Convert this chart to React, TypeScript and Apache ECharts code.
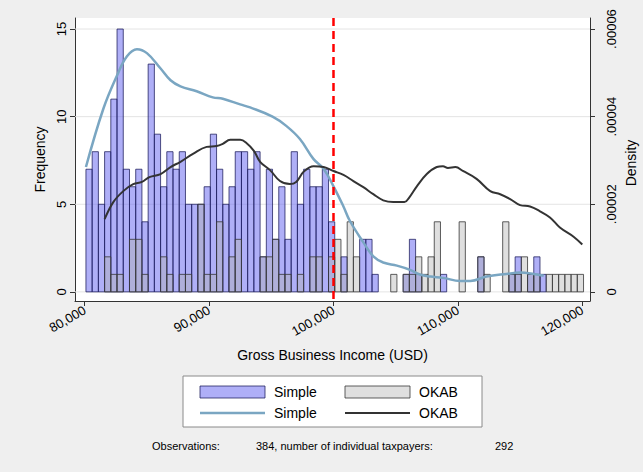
import React, { useEffect, useRef } from 'react';
import * as echarts from 'echarts';

// Histogram bins (Gross Business Income, USD)
const binStart = 80100;
const binWidth = 500;

// Frequency per bin, Simple regime
const simpleCounts = [
  7, 8, 5, 8, 11, 15, 7, 6, 7, 4,
  13, 9, 6, 8, 7, 8, 5, 5, 5, 6,
  9, 7, 5, 6, 8, 8, 7, 8, 2, 7,
  3, 6, 3, 8, 5, 7, 6, 6, 7, 4,
  0, 2, 0, 0, 3, 3, 1, 0, 0, 0,
  0, 1, 3, 1, 0, 0, 0, 1, 0, 0,
  0, 0, 0, 2, 0, 0, 0, 0, 1, 2,
  0, 1, 2, 1, 0, 0, 0, 0, 0, 0,
];

// Frequency per bin, OKAB regime
const okabCounts = [
  0, 0, 0, 2, 1, 1, 0, 3, 3, 1,
  0, 0, 2, 1, 0, 1, 1, 0, 5, 1,
  1, 4, 0, 2, 3, 0, 0, 0, 2, 2,
  3, 1, 1, 0, 1, 0, 2, 2, 0, 2,
  3, 1, 4, 2, 0, 0, 0, 0, 0, 1,
  0, 1, 1, 2, 1, 2, 4, 0, 0, 0,
  4, 0, 0, 2, 1, 0, 0, 4, 1, 1,
  2, 1, 1, 0, 1, 1, 1, 1, 1, 1,
];

// Kernel density, Simple
const simpleDensityIncome = [
  80100, 81500, 82600, 83400, 84200, 85000, 86100, 86900, 87700, 89000,
  90300, 91100, 92500, 93300, 95100, 96200, 97300, 98400, 99200, 100000,
  100800, 101300, 102400, 103200, 104000, 105100, 106100, 107000, 107800, 108800,
  110200, 111000, 112300, 113900, 115000, 116100, 116900,
];
const simpleDensity = [
  2.85e-5, 4.18e-5, 4.94e-5, 5.38e-5, 5.54e-5, 5.45e-5, 5.10e-5, 4.83e-5, 4.69e-5, 4.58e-5,
  4.44e-5, 4.41e-5, 4.28e-5, 4.21e-5, 4.00e-5, 3.79e-5, 3.49e-5, 3.03e-5, 2.81e-5, 2.41e-5,
  1.95e-5, 1.63e-5, 1.13e-5, 0.81e-5, 0.67e-5, 0.60e-5, 0.51e-5, 0.39e-5, 0.35e-5, 0.32e-5,
  0.25e-5, 0.25e-5, 0.35e-5, 0.41e-5, 0.44e-5, 0.41e-5, 0.37e-5,
];

// Kernel density, OKAB
const okabDensityIncome = [
  81600, 82300, 83100, 83900, 84600, 85200, 86100, 86900, 87700, 88700,
  89800, 90600, 91100, 91700, 92500, 93000, 93600, 94100, 94900, 95700,
  96500, 97000, 97600, 98400, 99200, 100000, 100800, 101600, 102400, 103200,
  104000, 104800, 105700, 106100, 106700, 107500, 108300, 108800, 109200, 109800,
  110400, 111500, 112600, 113400, 114200, 115000, 115800, 116600, 117400, 118200,
  119300, 120000,
];
const okabDensity = [
  1.66e-5, 2.05e-5, 2.30e-5, 2.46e-5, 2.51e-5, 2.62e-5, 2.69e-5, 2.85e-5, 2.97e-5, 3.15e-5,
  3.31e-5, 3.33e-5, 3.38e-5, 3.47e-5, 3.47e-5, 3.40e-5, 3.22e-5, 2.97e-5, 2.78e-5, 2.53e-5,
  2.46e-5, 2.51e-5, 2.74e-5, 2.87e-5, 2.85e-5, 2.76e-5, 2.67e-5, 2.53e-5, 2.39e-5, 2.23e-5,
  2.09e-5, 2.05e-5, 2.05e-5, 2.16e-5, 2.41e-5, 2.69e-5, 2.85e-5, 2.87e-5, 2.83e-5, 2.85e-5,
  2.76e-5, 2.58e-5, 2.30e-5, 2.23e-5, 2.12e-5, 1.98e-5, 1.95e-5, 1.84e-5, 1.70e-5, 1.47e-5,
  1.26e-5, 1.08e-5,
];

// Axis ticks
const xTicks = [80000, 90000, 100000, 110000, 120000];
const freqTicks = [0, 5, 10, 15];
const densityTicks = [0, 0.00002, 0.00004, 0.00006];
const threshold = 100000;

const noteParts = ['Observations:', '384, number of individual taxpayers:', '292'];

const X_MIN = 79220;
const X_MAX = 120620;
const Y_MIN = -0.52;
const Y_MAX = 15.63;
const DENS_PER_FREQ = 0.000004;

const FONT = '"Liberation Sans", Arial, sans-serif';

const SIMPLE_FILL = 'rgba(95, 95, 240, 0.5)';
const SIMPLE_STROKE = 'rgba(25, 25, 90, 0.75)';
const OKAB_FILL = 'rgba(175, 175, 175, 0.4)';
const OKAB_STROKE = 'rgba(55, 55, 55, 0.8)';
const SIMPLE_LINE = '#7AA6C2';
const OKAB_LINE = '#333333';

function histData(counts: number[]) {
  return counts
    .map((c, i) => [binStart + i * binWidth, binStart + (i + 1) * binWidth, c])
    .filter((d) => d[2] > 0);
}

function histSeries(name: string, counts: number[], fill: string, stroke: string, z: number) {
  return {
    type: 'custom',
    name,
    z,
    data: histData(counts),
    encode: { x: [0, 1], y: 2 },
    renderItem: (params: any, api: any) => {
      const p0 = api.coord([api.value(0), api.value(2)]);
      const p1 = api.coord([api.value(1), 0]);
      return {
        type: 'rect',
        shape: { x: p0[0], y: p0[1], width: p1[0] - p0[0], height: p1[1] - p0[1] },
        style: { fill, stroke, lineWidth: 1 },
      };
    },
  };
}

export default function App() {
  const ref = useRef<HTMLDivElement>(null);

  useEffect(() => {
    document.body.style.margin = '0';
    if (!ref.current) return;
    const chart = echarts.init(ref.current, undefined, { renderer: 'svg' });

    const legendX = 183;
    const legendY = 376;

    const option: any = {
      animation: false,
      backgroundColor: '#EFEFEF',
      textStyle: { fontFamily: FONT },
      grid: {
        left: 75,
        right: 53,
        top: 18,
        bottom: 171,
        show: true,
        backgroundColor: '#FFFFFF',
        borderWidth: 0,
      },
      xAxis: {
        type: 'value',
        min: X_MIN,
        max: X_MAX,
        axisLine: { show: true, onZero: false, lineStyle: { color: '#333', width: 1 } },
        axisTick: { show: true, length: 5, customValues: xTicks, lineStyle: { color: '#333' } },
        axisLabel: {
          customValues: xTicks,
          rotate: 30,
          margin: 8,
          fontSize: 13,
          color: '#000',
          fontFamily: FONT,
          formatter: (v: number) => v.toLocaleString('en-US'),
        },
        splitLine: { show: false },
        name: 'Gross Business Income (USD)',
        nameLocation: 'middle',
        nameGap: 47,
        nameTextStyle: { fontSize: 14, color: '#000', fontFamily: FONT },
      },
      yAxis: [
        {
          type: 'value',
          position: 'left',
          min: Y_MIN,
          max: Y_MAX,
          axisLine: { show: true, lineStyle: { color: '#333', width: 1 } },
          axisTick: { show: true, length: 5, customValues: freqTicks, lineStyle: { color: '#333' } },
          axisLabel: {
            customValues: freqTicks,
            rotate: 90,
            margin: 7,
            fontSize: 13,
            color: '#000',
            fontFamily: FONT,
          },
          splitLine: { show: false },
          name: 'Frequency',
          nameLocation: 'middle',
          nameRotate: 90,
          nameGap: 28,
          nameTextStyle: { fontSize: 14, color: '#000', fontFamily: FONT },
        },
        {
          type: 'value',
          position: 'right',
          min: Y_MIN * DENS_PER_FREQ,
          max: Y_MAX * DENS_PER_FREQ,
          axisLine: { show: true, lineStyle: { color: '#333', width: 1 } },
          axisTick: { show: true, length: 5, customValues: densityTicks, lineStyle: { color: '#333' } },
          axisLabel: {
            customValues: densityTicks,
            rotate: 90,
            margin: 15,
            fontSize: 13,
            color: '#000',
            fontFamily: FONT,
            formatter: (v: number) => (v === 0 ? '0' : v.toFixed(5).replace(/^0/, '')),
          },
          splitLine: { show: false },
        },
      ],
      series: [
        {
          type: 'custom',
          name: 'grid',
          z: 1,
          silent: true,
          data: freqTicks.map((v) => [v]),
          encode: { y: 0 },
          renderItem: (params: any, api: any) => {
            const cs = params.coordSys;
            const y = api.coord([X_MIN, api.value(0)])[1];
            return {
              type: 'line',
              shape: { x1: cs.x, y1: y, x2: cs.x + cs.width, y2: y },
              style: { stroke: '#E4E4E4', lineWidth: 1 },
            };
          },
        },
        histSeries('Simple', simpleCounts, SIMPLE_FILL, SIMPLE_STROKE, 2),
        histSeries('OKAB', okabCounts, OKAB_FILL, OKAB_STROKE, 3),
        {
          type: 'line',
          name: 'Simple density',
          yAxisIndex: 1,
          z: 4,
          smooth: 0.4,
          showSymbol: false,
          symbol: 'none',
          lineStyle: { color: SIMPLE_LINE, width: 2.5 },
          data: simpleDensityIncome.map((x, i) => [x, simpleDensity[i]]),
        },
        {
          type: 'line',
          name: 'OKAB density',
          yAxisIndex: 1,
          z: 5,
          smooth: 0.4,
          showSymbol: false,
          symbol: 'none',
          lineStyle: { color: OKAB_LINE, width: 2 },
          data: okabDensityIncome.map((x, i) => [x, okabDensity[i]]),
        },
        {
          type: 'custom',
          name: 'threshold',
          z: 6,
          silent: true,
          data: [[threshold]],
          encode: { x: 0 },
          renderItem: (params: any, api: any) => {
            const cs = params.coordSys;
            const x = api.coord([api.value(0), 0])[0];
            return {
              type: 'line',
              shape: { x1: x, y1: cs.y, x2: x, y2: cs.y + cs.height },
              style: { stroke: '#FF0000', lineWidth: 2.5, lineDash: [8, 5] },
            };
          },
        },
      ],
      graphic: [
        {
          type: 'text',
          x: 631,
          y: 163,
          rotation: Math.PI / 2,
          style: {
            text: 'Density',
            fontSize: 14,
            fontFamily: FONT,
            fill: '#000',
            align: 'center',
            verticalAlign: 'middle',
          },
        },
        {
          type: 'rect',
          shape: { x: legendX, y: legendY, width: 299, height: 51 },
          style: { fill: '#FFFFFF', stroke: '#8A8A8A', lineWidth: 1 },
        },
        {
          type: 'rect',
          shape: { x: 200, y: 386, width: 65, height: 12 },
          style: { fill: SIMPLE_FILL, stroke: SIMPLE_STROKE, lineWidth: 1 },
        },
        {
          type: 'text',
          x: 274,
          y: 392,
          style: { text: 'Simple', fontSize: 14, fontFamily: FONT, fill: '#000', verticalAlign: 'middle' },
        },
        {
          type: 'rect',
          shape: { x: 345, y: 386, width: 65, height: 12 },
          style: { fill: OKAB_FILL, stroke: OKAB_STROKE, lineWidth: 1 },
        },
        {
          type: 'text',
          x: 419,
          y: 392,
          style: { text: 'OKAB', fontSize: 14, fontFamily: FONT, fill: '#000', verticalAlign: 'middle' },
        },
        {
          type: 'line',
          shape: { x1: 200, y1: 413, x2: 265, y2: 413 },
          style: { stroke: SIMPLE_LINE, lineWidth: 2.5 },
        },
        {
          type: 'text',
          x: 274,
          y: 413,
          style: { text: 'Simple', fontSize: 14, fontFamily: FONT, fill: '#000', verticalAlign: 'middle' },
        },
        {
          type: 'line',
          shape: { x1: 345, y1: 413, x2: 410, y2: 413 },
          style: { stroke: OKAB_LINE, lineWidth: 2 },
        },
        {
          type: 'text',
          x: 419,
          y: 413,
          style: { text: 'OKAB', fontSize: 14, fontFamily: FONT, fill: '#000', verticalAlign: 'middle' },
        },
        {
          type: 'text',
          x: 152,
          y: 446,
          style: { text: noteParts[0], fontSize: 11, fontFamily: FONT, fill: '#000', verticalAlign: 'middle' },
        },
        {
          type: 'text',
          x: 256,
          y: 446,
          style: { text: noteParts[1], fontSize: 11, fontFamily: FONT, fill: '#000', verticalAlign: 'middle' },
        },
        {
          type: 'text',
          x: 495,
          y: 446,
          style: { text: noteParts[2], fontSize: 11, fontFamily: FONT, fill: '#000', verticalAlign: 'middle' },
        },
      ],
    };

    chart.setOption(option);
    return () => {
      chart.dispose();
    };
  }, []);

  return <div ref={ref} style={{ width: 643, height: 472 }} />;
}
